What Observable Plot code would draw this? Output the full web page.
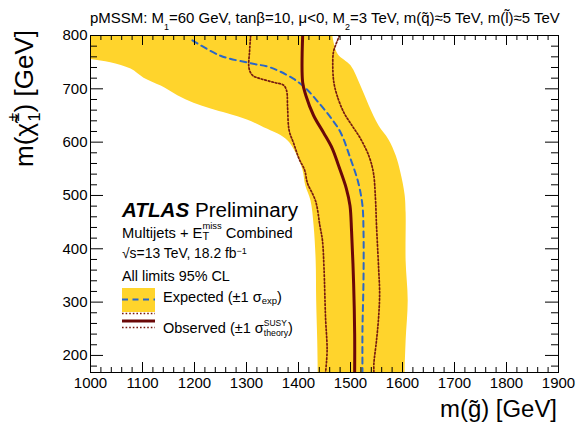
<!DOCTYPE html>
<html><head><meta charset="utf-8">
<script src="https://cdn.jsdelivr.net/npm/d3@7"></script>
<script src="https://cdn.jsdelivr.net/npm/@observablehq/plot@0.6"></script>
<style>body{margin:0;background:#fff;} svg{display:block}</style>
</head><body>
<script>
// ---- data (GeV) ----
// Expected ±1σ band: inner (lower-left) edge and outer (upper-right) edge
const bandInnerX = [940, 940, 962, 1000, 1038, 1077, 1102, 1135, 1167, 1198, 1231, 1263, 1302, 1333, 1360, 1379, 1390, 1400, 1408, 1413, 1423, 1429, 1433, 1434, 1436, 1437, 1437];
const bandInnerY = [850, 761, 761, 756, 750, 738, 721, 706, 688, 674, 663, 654, 642, 628, 616, 603, 588, 569, 547, 519, 491, 444, 378, 303, 228, 168, 140];
const bandOuterX = [1462, 1462, 1465, 1475, 1500, 1519, 1535, 1554, 1573, 1587, 1596, 1604, 1606, 1606, 1610, 1606, 1604, 1604];
const bandOuterY = [850, 828, 800, 766, 744, 706, 669, 631, 605, 575, 543, 502, 468, 378, 303, 228, 168, 140];
// Expected limit
const expX = [1196, 1250, 1308, 1346, 1390, 1414, 1437, 1462, 1481, 1500, 1515, 1523, 1525, 1525, 1523, 1523];
const expY = [791, 762, 748, 740, 719, 701, 676, 646, 618, 569, 524, 481, 434, 341, 247, 168];
// Observed limit
const obsX = [1408, 1408, 1414, 1429, 1448, 1465, 1477, 1492, 1499, 1502, 1506, 1508, 1508];
const obsY = [800, 712, 688, 650, 618, 588, 556, 513, 481, 434, 335, 241, 168];
// Observed +1σ theory
const obsUpX = [1479, 1471, 1467, 1466, 1468, 1474, 1487, 1503, 1519, 1535, 1544, 1548, 1550, 1554, 1556, 1554, 1550, 1545, 1545];
const obsUpY = [800, 781, 768, 738, 712, 688, 656, 631, 607, 575, 543, 494, 444, 365, 316, 271, 228, 185, 168];
// Observed -1σ theory
const obsDownX = [1308, 1306, 1305, 1312, 1327, 1353, 1371, 1377, 1379, 1382, 1391, 1401, 1412, 1417, 1433, 1441, 1446, 1449, 1452, 1455, 1452];
const obsDownY = [800, 772, 738, 725, 719, 712, 707, 697, 665, 622, 597, 569, 547, 524, 489, 444, 416, 365, 271, 209, 168];
// ticks
const xMajor = [1000, 1100, 1200, 1300, 1400, 1500, 1600, 1700, 1800, 1900];
const yMajor = [200, 300, 400, 500, 600, 700, 800];
const xMinor = d3.range(1000, 1901, 20).filter(v => v % 100 !== 0);
const yMinor = d3.range(180, 801, 20).filter(v => v % 100 !== 0);

// ---- styles ----
const FONT = "'Liberation Sans', Arial, Helvetica, sans-serif";
const BAND = "#ffd42c";
const BLUE = "#2b67c7";
const RED = "#6a0808";
const DOT = "#761a10";
const W = 582, H = 427, ML = 90, MR = 24, MT = 35, MB = 55;
const FW = W - ML - MR, FH = H - MT - MB;

const pts = (X, Y) => X.map((x, i) => ({x, y: Y[i]}));
const band = [...pts(bandInnerX, bandInnerY), ...pts(bandOuterX, bandOuterY).reverse()];

const chart = Plot.plot({
  width: W, height: H,
  marginLeft: ML, marginRight: MR, marginTop: MT, marginBottom: MB,
  x: {domain: [1000, 1900], axis: null, label: null},
  y: {domain: [168, 800], axis: null, label: null},
  style: {fontFamily: FONT, fontSize: "15px", color: "black", background: "white"},
  marks: [
    Plot.line(band, {x: "x", y: "y", fill: BAND, stroke: "none", curve: "catmull-rom", clip: true}),
    Plot.line(pts(obsDownX, obsDownY), {x: "x", y: "y", stroke: DOT, strokeWidth: 1.7, strokeDasharray: "1.6 2", curve: "catmull-rom", clip: true}),
    Plot.line(pts(obsUpX, obsUpY), {x: "x", y: "y", stroke: DOT, strokeWidth: 1.7, strokeDasharray: "1.6 2", curve: "catmull-rom", clip: true}),
    Plot.line(pts(expX, expY), {x: "x", y: "y", stroke: BLUE, strokeWidth: 2, strokeDasharray: "6 4.5", curve: "catmull-rom", clip: true}),
    Plot.line(pts(obsX, obsY), {x: "x", y: "y", stroke: RED, strokeWidth: 3, curve: "catmull-rom", clip: true}),
    // inward ticks (ROOT style) on all four sides
    Plot.ruleX(xMajor, {x: d => d, insetTop: FH - 10, stroke: "black"}),
    Plot.ruleX(xMinor, {x: d => d, insetTop: FH - 5, stroke: "black"}),
    Plot.ruleX(xMajor, {x: d => d, insetBottom: FH - 10, stroke: "black"}),
    Plot.ruleX(xMinor, {x: d => d, insetBottom: FH - 5, stroke: "black"}),
    Plot.ruleY(yMajor, {y: d => d, insetRight: FW - 13, stroke: "black"}),
    Plot.ruleY(yMinor, {y: d => d, insetRight: FW - 7, stroke: "black"}),
    Plot.ruleY(yMajor, {y: d => d, insetLeft: FW - 13, stroke: "black"}),
    Plot.ruleY(yMinor, {y: d => d, insetLeft: FW - 7, stroke: "black"}),
    Plot.frame({stroke: "black"}),
    Plot.axisX(xMajor, {anchor: "bottom", tickSize: 0, tickPadding: 5, tickFormat: d => String(d), label: null}),
    Plot.axisY(yMajor, {anchor: "left", tickSize: 0, tickPadding: 3, tickFormat: d => String(d), label: null})
  ]
});
document.body.append(chart);

// ---- rich text helper (sub/superscripts) ----
const svg = d3.select(chart);
function put(g, t, x, y, fs, seg) {
  const el = g.append("text").attr("x", x).attr("y", y).attr("font-size", fs)
    .attr("font-family", FONT).attr("fill", "black").attr("text-anchor", "start")
    .style("white-space", "pre")
    .attr("font-weight", seg.weight || null).attr("font-style", seg.style || null).text(t);
  return el.node().getComputedTextLength();
}
function layout(g, segs, fs) {
  let cur = 0;
  for (const s of segs) {
    const seg = typeof s === "string" ? {t: s} : s;
    if (seg.sub !== undefined || seg.sup !== undefined) {
      cur += fs * (seg.gap ?? 0);
      let w = 0;
      if (seg.sub !== undefined) w = Math.max(w, put(g, seg.sub, cur, fs * (seg.subDy ?? 0.3), fs * (seg.subSize ?? 0.7), seg));
      if (seg.sup !== undefined) w = Math.max(w, put(g, seg.sup, cur, fs * (seg.supDy ?? -0.45), fs * (seg.supSize ?? 0.7), seg));
      cur += w;
    } else {
      cur += put(g, seg.t, cur, 0, fs, seg);
    }
  }
  return cur;
}
function rich(o) {
  let fs = o.size;
  if (o.target) {
    const tmp = svg.append("g");
    const w = layout(tmp, o.segs, fs);
    tmp.remove();
    fs = fs * o.target / w;
  }
  const g = svg.append("g").attr("transform", `translate(${o.x},${o.y})` + (o.rotate ? ` rotate(${o.rotate})` : ""));
  const inner = g.append("g");
  const w = layout(inner, o.segs, fs);
  if (o.anchor === "end") inner.attr("transform", `translate(${-w},0)`);
  return g;
}

// top title
rich({x: 90, y: 22.5, size: 13.5, target: 470, segs: [
  "pMSSM: M", {sub: "1", subDy: 0.5, subSize: 0.6},
  "=60 GeV, tan\u03B2=10, \u03BC<0, M", {sub: "2", subDy: 0.5, subSize: 0.6},
  "=3 TeV, m(q\u0303)\u22485 TeV, m(l\u0303)\u22485 TeV"]});

// axis titles
rich({x: 557, y: 417, size: 22, target: 117, anchor: "end", segs: ["m(g\u0303) [GeV]"]});
rich({x: 33, y: 30, size: 24, target: 137, anchor: "end", rotate: -90, segs: [
  "m(\u03C7\u0303", {sub: "1", sup: "\u00B1", gap: 0.06, subDy: 0.25, supDy: -0.55, subSize: 0.62, supSize: 0.62}, ") [GeV]"]});

// legend / labels
rich({x: 122, y: 216.5, size: 20, target: 176, segs: [{t: "ATLAS", weight: "bold", style: "italic"}, " Preliminary"]});
rich({x: 122, y: 237.5, size: 14, target: 171, segs: ["Multijets + E", {sub: "T", sup: "miss", subDy: 0.15, supDy: -0.57, subSize: 0.75, supSize: 0.64}, " Combined"]});
rich({x: 122, y: 258, size: 14, target: 125, segs: ["\u221As=13 TeV, 18.2 fb", {sup: "\u22121", supDy: -0.3, supSize: 0.65}]});
rich({x: 122, y: 281, size: 14, target: 108, segs: ["All limits 95% CL"]});
rich({x: 163, y: 302, size: 14, target: 119, segs: ["Expected (\u00B11 \u03C3", {sub: "exp", subDy: 0.15, subSize: 0.65}, ")"]});
rich({x: 163, y: 333, size: 14, target: 130, segs: ["Observed (\u00B11 \u03C3", {sub: "theory", sup: "SUSY", subDy: 0.2, supDy: -0.5, subSize: 0.6, supSize: 0.58}, ")"]});

// legend swatches
svg.append("rect").attr("x", 122).attr("y", 288).attr("width", 33).attr("height", 24).attr("fill", BAND);
svg.append("line").attr("x1", 122).attr("x2", 155).attr("y1", 299.5).attr("y2", 299.5)
  .attr("stroke", BLUE).attr("stroke-width", 2).attr("stroke-dasharray", "6 4.5");
svg.append("line").attr("x1", 122).attr("x2", 155).attr("y1", 313.5).attr("y2", 313.5)
  .attr("stroke", DOT).attr("stroke-width", 1.7).attr("stroke-dasharray", "1.6 2");
svg.append("line").attr("x1", 122).attr("x2", 155).attr("y1", 321).attr("y2", 321)
  .attr("stroke", RED).attr("stroke-width", 3);
svg.append("line").attr("x1", 122).attr("x2", 155).attr("y1", 327.5).attr("y2", 327.5)
  .attr("stroke", DOT).attr("stroke-width", 1.7).attr("stroke-dasharray", "1.6 2");
</script>
</body></html>
